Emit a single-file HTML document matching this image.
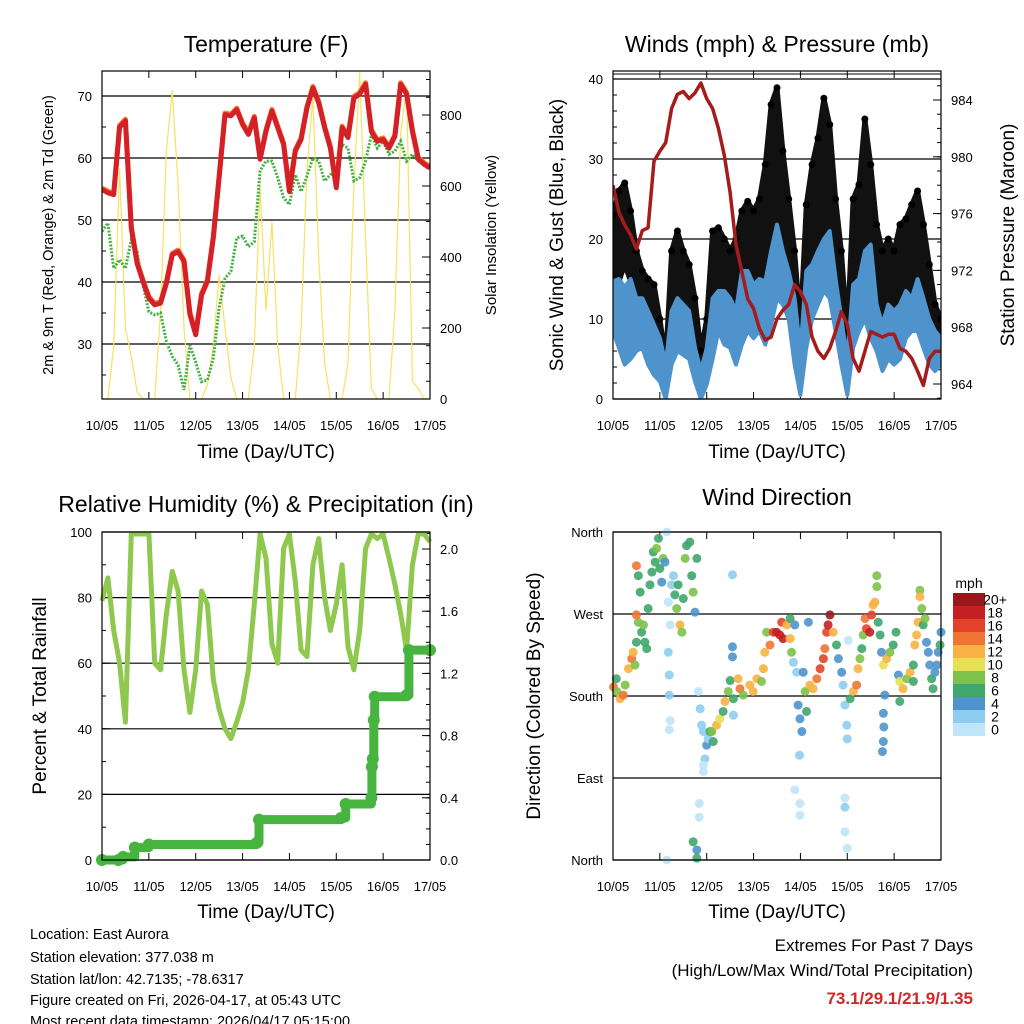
<!DOCTYPE html>
<html><head><meta charset="utf-8">
<style>
html,body{margin:0;padding:0;background:#fff;}
svg{display:block;font-family:"Liberation Sans",sans-serif;}
</style></head>
<body>
<svg id="chart" width="1024" height="1024" viewBox="0 0 1024 1024" xmlns="http://www.w3.org/2000/svg">
<rect width="1024" height="1024" fill="#fff"/>
<g id="layer"></g>
<text x="266" y="52" font-size="23" text-anchor="middle">Temperature (F)</text>
<text x="777" y="52" font-size="23" text-anchor="middle">Winds (mph) &amp; Pressure (mb)</text>
<text x="266" y="512" font-size="23" text-anchor="middle">Relative Humidity (%) &amp; Precipitation (in)</text>
<text x="777" y="505" font-size="23" text-anchor="middle">Wind Direction</text>
<text x="266" y="458" font-size="19" text-anchor="middle">Time (Day/UTC)</text>
<text x="777" y="458" font-size="19" text-anchor="middle">Time (Day/UTC)</text>
<text x="266" y="918" font-size="19" text-anchor="middle">Time (Day/UTC)</text>
<text x="777" y="918" font-size="19" text-anchor="middle">Time (Day/UTC)</text>
<text transform="translate(53,235) rotate(-90)" font-size="14.5" text-anchor="middle">2m &amp; 9m T (Red, Orange) &amp; 2m Td (Green)</text>
<text transform="translate(496,235) rotate(-90)" font-size="15" text-anchor="middle">Solar Insolation (Yellow)</text>
<text transform="translate(563,235) rotate(-90)" font-size="19" text-anchor="middle">Sonic Wind &amp; Gust (Blue, Black)</text>
<text transform="translate(1014,235) rotate(-90)" font-size="19" text-anchor="middle">Station Pressure (Maroon)</text>
<text transform="translate(46,696) rotate(-90)" font-size="19" text-anchor="middle">Percent &amp; Total Rainfall</text>
<text transform="translate(540,696) rotate(-90)" font-size="19" text-anchor="middle">Direction (Colored By Speed)</text>
<g font-size="14.5">
<text x="30" y="939">Location: East Aurora</text>
<text x="30" y="962">Station elevation: 377.038 m</text>
<text x="30" y="984">Station lat/lon: 42.7135; -78.6317</text>
<text x="30" y="1005">Figure created on Fri, 2026-04-17, at 05:43 UTC</text>
<text x="30" y="1026">Most recent data timestamp: 2026/04/17 05:15:00</text>
</g>
<g text-anchor="end">
<text x="973" y="951" font-size="17">Extremes For Past 7 Days</text>
<text x="973" y="976" font-size="17">(High/Low/Max Wind/Total Precipitation)</text>
<text x="973" y="1004" font-size="17" font-weight="bold" fill="#d02828">73.1/29.1/21.9/1.35</text>
</g>
<text x="969" y="588" font-size="14" text-anchor="middle">mph</text>
</svg>
<script>
// ---- data ----
const dayLabels = ["10/05","11/05","12/05","13/05","14/05","15/05","16/05","17/05"];
const tempT = [54.9,54.4,54.1,65,66,48.7,43.0,40.1,37.4,36.3,36.6,39.8,44.4,44.9,43.3,34.8,31.5,37.9,40.1,47.1,56.8,67.0,66.8,67.8,65.4,63.8,66.5,59.8,64.3,67.6,64.9,62.2,54.6,61.1,63.0,68.1,71.3,68.9,64.9,61.6,55.2,64.9,63.3,69.7,70.3,71.9,64.3,62.7,63.0,61.6,63.5,71.9,70.3,64.3,59.8,59.0,58.4];
const dewTd = [48.2,49.5,42.2,43.6,42.2,46.8,44.9,39.5,35.2,34.7,35.0,30.4,28.0,26.6,22.6,29.8,27.1,23.9,24.2,27.7,35.8,40.6,41.7,47.1,47.4,45.7,46.5,57.9,59.5,59.5,56.8,53.6,52.5,57.3,54.6,57.1,60.0,59.5,56.3,57.3,57.9,62.2,61.6,56.3,56.8,59.5,63.8,61.6,62.7,60.6,61.1,62.7,59.5,60.6,59.5,59.0,58.4];
const solar = [0,0,150,650,200,120,20,0,0,0,250,700,870,600,200,0,0,0,40,150,350,200,60,0,0,0,150,600,250,500,150,0,0,0,200,650,850,400,100,0,0,0,100,600,920,450,30,0,0,0,250,750,880,50,30,0,0];
const windLow  = [8.5,6.4,4.3,5,6,6.4,4.3,3,2.2,0,4.3,6,5.5,5,2.2,0,1.8,5,8.5,6.8,6.4,4.3,6.8,8.5,7.6,8.5,6.8,9.3,12.6,11.8,10,4.3,0.5,6.4,10,11.8,13.5,12.6,8.5,4.3,0.5,6.4,8.5,10,7.6,6,3.5,5,4.3,5,7.6,8.5,8.5,6.4,4.3,3.5,4.3];
const windHigh = [14.7,15,14,15,12.6,12.6,11,9.3,7.6,4.3,11,12.6,11.8,11,6.4,3.5,6.4,12.6,13.5,13.5,12.6,11,16,16,14.3,15,14.7,18.5,21.8,18.5,16,12.6,6,16,16.8,18.5,20,21,15,10,5,14.3,15,18.5,19.3,11.8,9.3,11.8,11,11.8,13.5,12.6,15,12.6,10,8.5,7.6];
const gustLow  = [12.6,14.7,16.8,14.7,12.6,10,9.3,8.5,5,1,6.4,10,11.8,10,6.4,1,4.3,10,12.6,11.8,10,8.5,11.8,13.5,11.8,11.8,12.6,14.7,16.8,16,13.5,8.5,2.2,11.8,15,16.8,18.5,16.8,12.6,8.5,2.2,10,13.5,16,15,11.8,9.3,11.8,10,11.8,12.6,13.5,13.5,11.8,8.5,6.8,6];
const gustHigh = [23,26,27,23.5,18.5,16,15,14.3,10,5,18.5,21,18.5,16.8,12.6,6,10,21,21.4,20,18.5,20,23.5,24.7,23.5,25,29.3,36.8,38.9,31,25,18.5,9.3,24.3,29.3,32.6,37.6,34.3,25,18.5,8.5,25,26.8,35,29.3,21.8,18.5,20,18.5,21.8,22.5,24.3,26,21.8,16.8,11.8,10];
const pressure = [978.0,976.1,975.2,974.5,973.5,974.8,975.0,979.7,980.4,981.0,983.4,984.4,984.6,984.1,984.5,985.2,984.1,983.4,982.0,980.1,977.5,973.8,971.9,970.0,969.3,967.9,967.1,967.3,968.6,969.2,969.6,971.0,970.5,969.6,967.3,966.3,965.8,966.5,967.7,969.1,968.2,965.8,964.9,966.3,967.7,967.5,967.3,967.5,967.5,966.5,966.3,965.8,964.9,963.9,965.8,966.3,966.3];
const rh = [79,86,70,60,42,100,100,100,100,60,58,75,88,82,58,45,58,82,78,55,46,40,37,42,48,58,78,100,92,66,60,95,100,85,64,62,90,98,80,70,78,90,65,58,70,95,100,98,100,92,84,75,64,90,100,100,97];
const precipT = [0,0.35,0.45,0.7,1.0,3.3,3.35,5.1,5.2,5.75,5.76,5.78,5.8,5.82,6.5,6.55,7];
const precipV = [0,0,0.02,0.08,0.1,0.11,0.26,0.27,0.36,0.4,0.6,0.65,0.9,1.05,1.06,1.35,1.35];
const dirT = [0.01,0.08,0.15,0.22,0.07,0.26,0.33,0.40,0.43,0.47,0.50,0.54,0.50,0.54,0.50,0.58,0.61,0.65,0.68,0.72,0.75,0.79,0.83,0.86,0.90,0.93,0.97,1.00,1.07,1.04,1.11,1.15,1.18,1.22,1.18,1.20,1.20,1.22,1.20,1.25,1.29,1.32,1.36,1.39,1.43,1.47,1.50,1.54,1.57,1.64,1.68,1.71,1.75,1.79,1.82,1.86,1.89,1.93,1.96,2.00,2.03,2.07,2.11,2.14,1.93,1.93,1.84,1.84,1.71,1.79,1.79,1.15,2.21,2.28,2.35,2.39,2.46,2.50,2.57,2.57,2.55,2.55,2.55,2.67,2.71,2.78,2.92,2.99,3.07,3.17,3.21,3.24,3.28,3.35,3.42,3.49,3.56,3.60,3.63,3.71,3.78,3.81,3.78,3.85,3.88,3.92,3.95,3.99,4.03,3.98,3.88,3.99,3.99,4.06,4.10,4.13,4.17,4.20,4.27,4.35,4.42,4.49,4.52,4.56,4.59,4.63,4.70,4.77,4.81,4.88,4.91,4.95,4.99,5.00,4.95,4.95,4.95,5.00,5.02,5.06,5.13,5.20,5.23,5.27,5.31,5.34,5.38,5.41,5.48,5.52,5.55,5.63,5.63,5.59,5.66,5.70,5.73,5.77,5.80,5.77,5.78,5.77,5.75,5.84,5.91,5.98,6.04,6.09,6.12,6.19,6.27,6.34,6.41,6.44,6.48,6.51,6.55,6.55,6.59,6.62,6.66,6.69,6.73,6.76,6.80,6.83,6.87,6.91,6.94,6.98,7.00,6.12,6.41];
const dirDeg = [190,185,177,181,199,192,210,221,228,214,239,261,269,312,323,294,250,258,239,232,276,302,316,338,327,342,353,320,331,305,327,360,283,258,228,203,181,153,143,302,312,291,276,302,258,250,287,331,345,349,312,294,272,331,185,166,148,141,111,126,133,141,141,130,104,97,62,47,20,11,2,0,148,155,163,174,185,197,177,159,234,223,313,199,188,181,192,185,199,196,210,228,250,236,250,250,247,261,243,258,243,228,265,217,258,206,170,155,141,115,77,62,49,206,185,163,261,192,188,199,210,221,232,250,258,269,250,236,221,206,192,170,148,133,68,58,31,13,241,177,185,192,210,221,232,247,265,254,250,269,280,312,300,283,261,247,228,214,181,161,146,130,119,221,228,236,250,203,196,188,199,206,214,236,247,261,296,289,276,258,265,239,228,214,199,188,206,214,228,236,250,174,196];
const dirSpd = [15,9,13,15,6,9,12,14,12,9,7,8,14,6,14,6,6,9,7,6,7,6,6,7,6,9,6,7,9,4,4,1,1,1,2,2,2,1,1,2,2,7,9,6,12,9,7,9,6,6,7,9,4,6,1,2,2,2,2,4,3,6,9,6,1,1,1,1,6,4,6,1,12,10,7,12,9,6,6,2,4,4,2,12,14,9,13,13,12,9,13,12,9,15,17,19,18,17,19,13,12,9,6,3,4,2,4,4,4,2,1,1,1,4,9,7,4,12,13,15,16,17,15,17,19,20,12,7,4,4,2,2,2,2,1,3,1,1,1,6,13,15,12,9,7,9,15,16,18,17,12,9,9,13,6,6,4,10,4,4,4,4,4,12,9,6,6,4,10,12,9,12,7,13,12,13,9,12,9,6,9,4,4,4,6,6,4,4,4,6,4,6,6];
const speedLabels = ["0","2","4","6","8","10","12","14","16","18","20+"];
const speedColors = ["#bfe6f8","#8fcdf0","#4f93cc","#3fa66c","#7ec24a","#e6e052","#f7b243","#f07434","#e3422a","#c41f23","#98181c"];

// ---- helpers ----
const NS = "http://www.w3.org/2000/svg";
const layer = document.getElementById("layer");
function el(tag, attrs, name, parent) {
  const e = document.createElementNS(NS, tag);
  for (const k in attrs) e.setAttribute(k, attrs[k]);
  
  
  (parent || layer).appendChild(e);
  return e;
}
function lin(d0, d1, r0, r1) { return v => r0 + (v - d0) * (r1 - r0) / (d1 - d0); }

function frame(px, py, w, h, prefix) {
  const g = el("g", {}, prefix + "-axes");
  const xs = lin(0, 7, px, px + w);
  dayLabels.forEach((lab, i) => {
    const x = xs(i);
    el("line", {x1: x, y1: py + h, x2: x, y2: py + h - 7, stroke: "#000", "stroke-width": 1}, prefix + "-x-tick", g);
    el("line", {x1: x, y1: py, x2: x, y2: py + 7, stroke: "#000", "stroke-width": 1}, prefix + "-x-tick-top", g);
    const t = el("text", {x: x, y: py + h + 31, "font-size": 13, "text-anchor": "middle"}, prefix + "-x-label", g);
    t.textContent = lab;
  });
  return {g, xs};
}
function yAxis(g, px, py, w, h, scale, majors, minors, labels, side, prefix, grid) {
  minors.forEach(v => {
    const y = scale(v);
    if (side === "left") el("line", {x1: px, y1: y, x2: px + 4, y2: y, stroke: "#000"}, prefix + "-minor-tick", g);
    else el("line", {x1: px + w, y1: y, x2: px + w - 4, y2: y, stroke: "#000"}, prefix + "-minor-tick", g);
  });
  majors.forEach((v, i) => {
    const y = scale(v);
    if (grid) el("line", {x1: px, y1: y, x2: px + w, y2: y, stroke: "#000", "stroke-width": 1.2}, prefix + "-gridline", g);
    if (side === "left") {
      el("line", {x1: px, y1: y, x2: px + 8, y2: y, stroke: "#000"}, prefix + "-tick", g);
      const t = el("text", {x: px - 10, y: y + 5, "font-size": 13, "text-anchor": "end"}, prefix + "-tick-label", g);
      t.textContent = labels[i];
    } else {
      el("line", {x1: px + w, y1: y, x2: px + w - 8, y2: y, stroke: "#000"}, prefix + "-tick", g);
      const t = el("text", {x: px + w + 10, y: y + 5, "font-size": 13, "text-anchor": "start"}, prefix + "-tick-label", g);
      t.textContent = labels[i];
    }
  });
}
function range(a, b, s) { const r = []; for (let v = a; v <= b + 1e-9; v += s) r.push(+v.toFixed(4)); return r; }
function pts(arr, xs, ys, step) { return arr.map((v, i) => xs(i * step).toFixed(1) + "," + ys(v).toFixed(1)).join(" "); }
function clip(id, x, y, w, h) {
  const d = el("clipPath", {id: id}, id, layer);
  el("rect", {x: x, y: y, width: w, height: h}, id + "-rect", d);
}

// ---- Panel 1: Temperature ----
{
  const px = 102, py = 71, w = 328, h = 328;
  clip("c1", px, py, w, h);
  const {g, xs} = frame(px, py, w, h, "temp");
  const yL = lin(30, 70, 344, 96);
  const yR = lin(0, 800, 399, 115);
  yAxis(g, px, py, w, h, yL, range(30, 70, 10), range(25, 70, 5), range(30, 70, 10).map(String), "left", "temp-y", true);
  yAxis(g, px, py, w, h, yR, range(0, 800, 200), range(0, 900, 50), range(0, 800, 200).map(String), "right", "solar-y", false);
  const s = el("g", {"clip-path": "url(#c1)"}, "temp-series", layer);
  el("polyline", {points: pts(solar, xs, yR, 0.125), fill: "none", stroke: "#f8e060", "stroke-width": 1.2}, "solar-line", s);
  el("polyline", {points: pts(dewTd, xs, yL, 0.125), fill: "none", stroke: "#44b040", "stroke-width": 3, "stroke-dasharray": "2 1.5"}, "dewpoint-line", s);
  el("polyline", {points: pts(tempT, xs, v => yL(v) - 1.5, 0.125), fill: "none", stroke: "#f08030", "stroke-width": 5, "stroke-linejoin": "round"}, "temp-9m-line", s);
  el("polyline", {points: pts(tempT, xs, yL, 0.125), fill: "none", stroke: "#d42026", "stroke-width": 5, "stroke-linejoin": "round"}, "temp-2m-line", s);
  el("rect", {x: px, y: py, width: w, height: h, fill: "none", stroke: "#000", "stroke-width": 1.2}, "temp-plot-frame", layer);
}

// ---- Panel 2: Winds & Pressure ----
{
  const px = 613, py = 71, w = 328, h = 328;
  clip("c2", px, py, w, h);
  const {g, xs} = frame(px, py, w, h, "wind");
  const yW = lin(0, 40, 399, 79);
  const yP = lin(964, 984, 384, 100);
  yAxis(g, px, py, w, h, yW, range(0, 40, 10), range(0, 40, 2), range(0, 40, 10).map(String), "left", "wind-y", true);
  yAxis(g, px, py, w, h, yP, range(964, 984, 4), range(963, 985, 1), range(964, 984, 4).map(String), "right", "pressure-y", false);
  el("line", {x1: px, y1: 74, x2: px + w, y2: 74, stroke: "#000"}, "wind-top-line", g);
  const s = el("g", {"clip-path": "url(#c2)"}, "wind-series", layer);
  const step = 0.125;
  function band(lo, hi, color, name, sw) {
    const up = hi.map((v, i) => xs(i * step).toFixed(1) + "," + yW(v).toFixed(1));
    const dn = lo.map((v, i) => xs(i * step).toFixed(1) + "," + yW(v).toFixed(1)).reverse();
    el("polygon", {points: up.concat(dn).join(" "), fill: color, stroke: color, "stroke-width": sw, "stroke-linejoin": "round"}, name, s);
  }
  band(gustLow, gustHigh, "#111", "gust-band", 5);
  gustHigh.forEach((v, i) => {
    el("circle", {cx: xs(i * step), cy: yW(v), r: 3.5, fill: "#000"}, "gust-peak-dot", s);
  });
  band(windLow, windHigh, "#4f93cc", "wind-band", 4);
  el("polyline", {points: pts(pressure, xs, yP, step), fill: "none", stroke: "#a51c1c", "stroke-width": 3.5, "stroke-linejoin": "round"}, "pressure-line", s);
  el("rect", {x: px, y: py, width: w, height: h, fill: "none", stroke: "#000", "stroke-width": 1.2}, "wind-plot-frame", layer);
}

// ---- Panel 3: RH & Precip ----
{
  const px = 102, py = 532, w = 328, h = 328;
  clip("c3", px - 6, py - 6, w + 12, h + 12);
  const {g, xs} = frame(px, py, w, h, "rh");
  const yH = lin(0, 100, 860, 532);
  const yPr = lin(0, 2.0, 860, 549);
  yAxis(g, px, py, w, h, yH, range(0, 100, 20), range(0, 100, 10), range(0, 100, 20).map(String), "left", "rh-y", true);
  yAxis(g, px, py, w, h, yPr, range(0, 2.0, 0.4), range(0, 2.1, 0.1), range(0, 2.0, 0.4).map(v => v.toFixed(1)), "right", "precip-y", false);
  const s = el("g", {"clip-path": "url(#c3)"}, "rh-series", layer);
  el("polyline", {points: pts(rh, xs, v => Math.max(yH(v), 534), 0.125), fill: "none", stroke: "#8fc84e", "stroke-width": 5, "stroke-linejoin": "round"}, "humidity-line", s);
  const sp = [];
  precipT.forEach((t, i) => {
    if (i > 0) sp.push(xs(t).toFixed(1) + "," + yPr(precipV[i - 1]).toFixed(1));
    sp.push(xs(t).toFixed(1) + "," + yPr(precipV[i]).toFixed(1));
  });
  el("polyline", {points: sp.join(" "), fill: "none", stroke: "#46b43e", "stroke-width": 9, "stroke-linecap": "round", "stroke-linejoin": "round"}, "precip-line", s);
  precipT.forEach((t, i) => {
    el("circle", {cx: xs(t), cy: yPr(precipV[i]), r: 6, fill: "#46b43e"}, "precip-point", s);
  });
  el("rect", {x: px, y: py, width: w, height: h, fill: "none", stroke: "#000", "stroke-width": 1.2}, "rh-plot-frame", layer);
}

// ---- Panel 4: Wind direction ----
{
  const px = 613, py = 532, w = 328, h = 328;
  clip("c4", px - 5, py - 5, w + 10, h + 10);
  const {g, xs} = frame(px, py, w, h, "dir");
  const yD = lin(0, 360, 860, 532);
  yAxis(g, px, py, w, h, yD, [0, 90, 180, 270, 360], [], ["North", "East", "South", "West", "North"], "left", "dir-y", true);
  const s = el("g", {"clip-path": "url(#c4)"}, "direction-series", layer);
  dirT.forEach((t, i) => {
    const bin = Math.min(10, Math.floor(dirSpd[i] / 2));
    el("circle", {cx: xs(t), cy: yD(dirDeg[i]), r: 4.5, fill: speedColors[bin], "fill-opacity": 0.9}, "direction-point", s);
  });
  el("rect", {x: px, y: py, width: w, height: h, fill: "none", stroke: "#000", "stroke-width": 1.2}, "dir-plot-frame", layer);
  const cb = el("g", {}, "speed-colorbar", layer);
  const top = 593, bh = 13;
  for (let k = 10; k >= 0; k--) {
    const y = top + (10 - k) * bh;
    el("rect", {x: 953, y: y, width: 32, height: bh, fill: speedColors[k]}, "colorbar-swatch", cb);
    const t = el("text", {x: 995, y: y + bh / 2 + 5, "font-size": 14, "text-anchor": "middle"}, "colorbar-label", cb);
    t.textContent = speedLabels[k];
  }
}
</script>
</body></html>
